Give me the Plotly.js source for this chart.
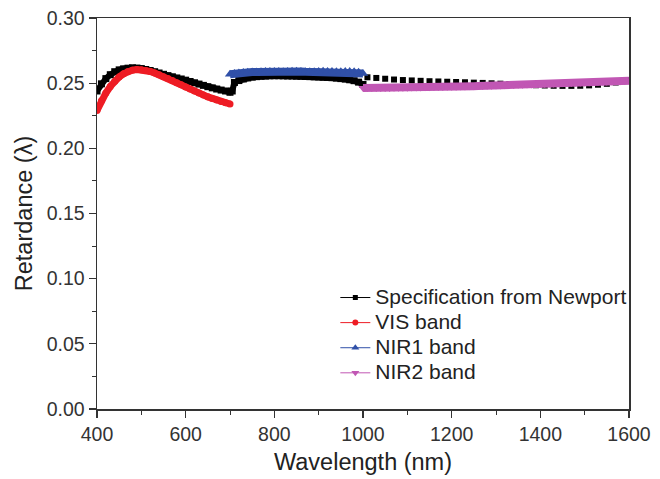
<!DOCTYPE html>
<html>
<head>
<meta charset="utf-8">
<script src="https://cdn.plot.ly/plotly-3.0.1.min.js"></script>
<style>html,body{margin:0;padding:0;background:#fff;}#chart{width:660px;height:479px;}</style>
</head>
<body>
<div id="chart"></div>
<script>
// Specification from Newport (black squares)
const specX = [400,410,420,430,440,450,460,470,480,490,500,510,520,530,540,550,560,570,580,590,600,610,620,630,640,650,660,670,680,690,700,705,710,720,730,740,750,760,770,780,790,800,810,820,830,840,850,860,870,880,890,900,910,920,930,940,950,960,970,980,990,1000,1010,1030,1050,1070,1090,1110,1130,1150,1170,1190,1210,1230,1250,1270,1290,1310,1330,1350,1370,1390,1410,1430,1450,1470,1490,1510,1530,1550,1570,1590,1600];
const specY = [0.2440,0.2495,0.2535,0.2565,0.2588,0.2602,0.2610,0.2615,0.2618,0.2616,0.2612,0.2605,0.2597,0.2588,0.2578,0.2568,0.2558,0.2549,0.2540,0.2532,0.2523,0.2513,0.2503,0.2493,0.2483,0.2473,0.2464,0.2455,0.2447,0.2440,0.2430,0.2440,0.2505,0.2520,0.2532,0.2540,0.2546,0.2550,0.2553,0.2555,0.2557,0.2557,0.2557,0.2556,0.2555,0.2555,0.2554,0.2553,0.2551,0.2550,0.2549,0.2548,0.2546,0.2544,0.2542,0.2539,0.2535,0.2531,0.2526,0.2519,0.2508,0.2490,0.2545,0.2540,0.2534,0.2528,0.2524,0.2521,0.2518,0.2515,0.2513,0.2511,0.2509,0.2507,0.2504,0.2502,0.2499,0.2496,0.2493,0.2490,0.2487,0.2484,0.2482,0.2480,0.2479,0.2479,0.2480,0.2483,0.2488,0.2495,0.2505,0.2515,0.2522];

// VIS band (red circles)
const visX = [400,410,420,430,440,450,460,470,480,490,500,510,520,530,540,550,560,570,580,590,600,610,620,630,640,650,660,670,680,690,700];
const visY = [0.2290,0.2365,0.2425,0.2475,0.2515,0.2548,0.2572,0.2590,0.2600,0.2605,0.2603,0.2598,0.2590,0.2578,0.2564,0.2550,0.2535,0.2520,0.2503,0.2487,0.2470,0.2455,0.2440,0.2425,0.2410,0.2395,0.2382,0.2370,0.2360,0.2350,0.2340];

// NIR1 band (blue triangles)
const nir1X = [700,710,720,730,740,750,760,770,780,790,800,810,820,830,840,850,860,870,880,890,900,910,920,930,940,950,960,970,980,990,1000];
const nir1Y = [0.2568,0.2574,0.2578,0.2582,0.2584,0.2585,0.2585,0.2587,0.2589,0.2590,0.2590,0.2589,0.2588,0.2590,0.2592,0.2592,0.2590,0.2588,0.2587,0.2588,0.2590,0.2591,0.2590,0.2589,0.2588,0.2588,0.2589,0.2590,0.2588,0.2583,0.2575];

// NIR2 band (magenta down-triangles)
const nir2X = [1000,1010,1020,1030,1040,1050,1060,1070,1080,1090,1100,1110,1120,1130,1140,1150,1160,1170,1180,1190,1200,1210,1220,1230,1240,1250,1260,1270,1280,1290,1300,1310,1320,1330,1340,1350,1360,1370,1380,1390,1400,1410,1420,1430,1440,1450,1460,1470,1480,1490,1500,1510,1520,1530,1540,1550,1560,1570,1580,1590,1600];
const nir2Y = [0.2462,0.2462,0.2462,0.2462,0.2463,0.2463,0.2463,0.2464,0.2464,0.2465,0.2465,0.2466,0.2467,0.2467,0.2468,0.2469,0.2470,0.2470,0.2471,0.2472,0.2472,0.2473,0.2474,0.2475,0.2476,0.2477,0.2478,0.2479,0.2480,0.2481,0.2482,0.2483,0.2484,0.2485,0.2486,0.2487,0.2488,0.2489,0.2490,0.2492,0.2493,0.2494,0.2495,0.2496,0.2497,0.2499,0.2500,0.2501,0.2502,0.2503,0.2505,0.2506,0.2507,0.2508,0.2510,0.2511,0.2512,0.2514,0.2515,0.2516,0.2518];

const names = ['Specification from Newport','VIS band','NIR1 band','NIR2 band'];
const colors = ['#000000', '#ee1c24', '#3050a8', '#c157b4'];
const FONT = 'Arial, "Liberation Sans", sans-serif';

// split the Newport curve: dense part up to 1000 nm, sparse squares beyond
const splitIdx = specX.findIndex(v => v > 1000) ;
const specDenseX = specX.slice(0, splitIdx), specDenseY = specY.slice(0, splitIdx);
const specSparseX = specX.slice(splitIdx - 1), specSparseY = specY.slice(splitIdx - 1);

const traces = [
  {x: specDenseX, y: specDenseY, mode: 'lines+markers', showlegend: false,
   line: {color: colors[0], width: 6}, marker: {symbol: 'square', size: 7, color: colors[0]}},
  {x: specSparseX, y: specSparseY, mode: 'markers', showlegend: false,
   marker: {symbol: 'square', size: 6, color: colors[0]}},
  {x: visX, y: visY, mode: 'lines+markers', showlegend: false,
   line: {color: colors[1], width: 7}, marker: {symbol: 'circle', size: 7, color: colors[1]}},
  {x: nir1X, y: nir1Y, mode: 'lines+markers', showlegend: false,
   line: {color: colors[2], width: 8}, marker: {symbol: 'triangle-up', size: 9, color: colors[2]}},
  {x: nir2X, y: nir2Y, mode: 'lines+markers', showlegend: false,
   line: {color: colors[3], width: 8}, marker: {symbol: 'triangle-down', size: 8, color: colors[3]}}
];

// legend entries (thin line + small marker, like the original)
const legSymbols = ['square', 'circle', 'triangle-up', 'triangle-down'];
const legSizes = [5, 6, 7, 7];
names.forEach((n, i) => {
  traces.push({x: [null], y: [null], mode: 'lines+markers', showlegend: true,
    name: '<span style="font-size:21px">' + n + '</span>',
    line: {color: colors[i], width: 1}, marker: {symbol: legSymbols[i], size: legSizes[i], color: colors[i]}});
});

const axisCommon = {
  showline: true, mirror: true, linecolor: '#333333', linewidth: 1.5,
  ticks: 'outside', ticklen: 7, tickwidth: 1.2, tickcolor: '#333333',
  showgrid: false, zeroline: false,
  tickfont: {family: FONT, size: 19.5, color: '#333333'}
};

const layout = {
  width: 660, height: 479,
  margin: {l: 97, r: 31, t: 18, b: 70},
  paper_bgcolor: '#ffffff', plot_bgcolor: '#ffffff',
  showlegend: true,
  xaxis: Object.assign({}, axisCommon, {
    range: [400, 1600], tickvals: [400,600,800,1000,1200,1400,1600], ticktext: ['400','600','800','1000','1200','1400','1600'],
    minor: {dtick: 100, ticks: 'outside', ticklen: 4, tickcolor: '#333333', tickwidth: 1},
    title: {text: 'Wavelength (nm)', font: {family: FONT, size: 23.5, color: '#222222'}, standoff: 9}
  }),
  yaxis: Object.assign({}, axisCommon, {
    range: [0, 0.30], tick0: 0, dtick: 0.05, tickformat: '.2f',
    minor: {dtick: 0.025, ticks: 'outside', ticklen: 4, tickcolor: '#333333', tickwidth: 1},
    title: {text: 'Retardance (λ)', font: {family: FONT, size: 23.5, color: '#222222'}, standoff: 7}
  }),
  legend: {
    x: 0.448, y: 0.33, xanchor: 'left', yanchor: 'top',
    bgcolor: 'rgba(0,0,0,0)', borderwidth: 0,
    font: {family: FONT, size: 17, color: '#222222'},
    tracegroupgap: 0
  }
};

Plotly.newPlot('chart', traces, layout, {displayModeBar: false, staticPlot: true});
</script>
</body>
</html>
